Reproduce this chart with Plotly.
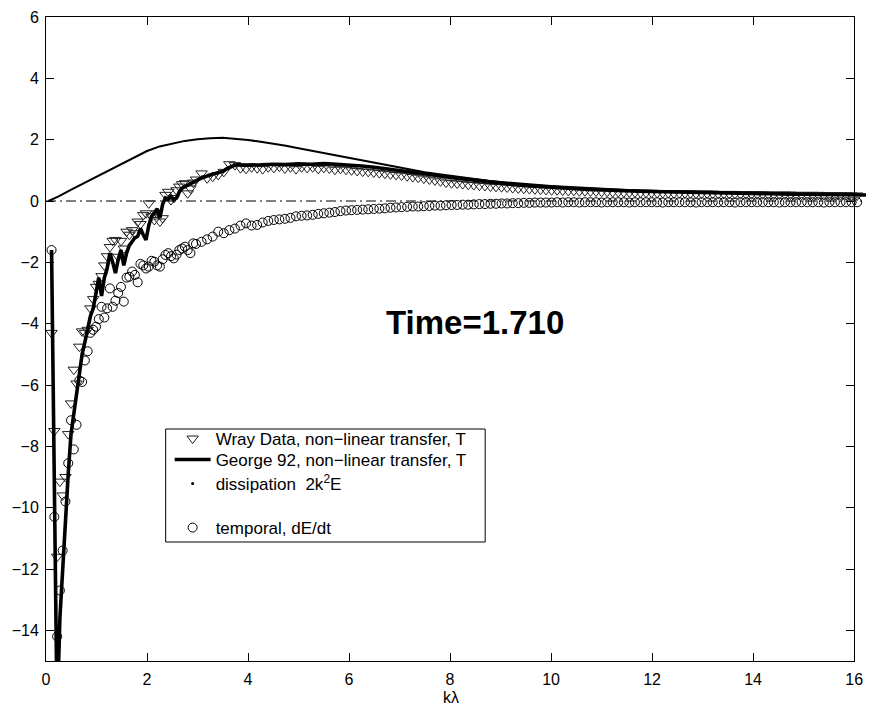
import numpy as np
import plotly.graph_objects as go

# ---- wavenumber grids (k * lambda) -------------------------------------
K_LO_START, K_LO_STEP = 0.11, 0.055   # fine grid at low wavenumbers
K_HI_START, K_HI_STEP = 3.08, 0.11    # coarser grid further out

# Wray data, non-linear transfer T (triangles)
tri_lo = [-4.3, -7.5, -11.6, -9.15, -9.6, -9.0, -7.6, -6.6, -5.5, -5.95,
          -4.75, -4.25, -4.3, -4.2, -3.5, -3.2, -2.8, -2.7, -2.45, -2.1,
          -1.8, -1.5, -1.3, -1.27, -1.82, -1.3, -1.55, -1.0, -1.1, -0.95,
          -1.05, -0.67, -0.75, -0.46, -0.4, -0.08, -0.5, -0.62, -0.4, -0.67,
          -0.56, 0.2, 0.3, 0.03, 0.1, 0.35, 0.47, 0.55, 0.58, 0.25,
          0.41, 0.6, 0.7]
tri_hi = [0.9, 0.74, 0.79, 0.85, 0.95, 1.2, 1.17, 1.07, 1.05, 1.1,
          1.07, 1.04, 1.1, 1.08, 1.12, 1.06, 1.1, 1.04, 1.1, 1.08,
          1.1, 1.05, 1.08, 1.06, 1.02, 1.05, 1.02, 1.0, 0.98, 0.96,
          0.95, 0.93, 0.91, 0.89, 0.87, 0.85, 0.83, 0.81, 0.78, 0.76,
          0.73, 0.7, 0.67, 0.64, 0.6, 0.58, 0.57, 0.55, 0.53, 0.52,
          0.5, 0.49, 0.47, 0.46, 0.45, 0.44, 0.42, 0.41, 0.4, 0.39,
          0.38, 0.37, 0.36, 0.35, 0.35, 0.34, 0.33, 0.33, 0.32, 0.32,
          0.31, 0.31, 0.3, 0.3, 0.29, 0.29, 0.28, 0.28, 0.28, 0.27,
          0.27, 0.27, 0.26, 0.26, 0.26, 0.25, 0.25, 0.25, 0.25, 0.24,
          0.24, 0.24, 0.24, 0.23, 0.23, 0.23, 0.23, 0.22, 0.22, 0.22,
          0.22, 0.22, 0.21, 0.21, 0.21, 0.21, 0.21, 0.2, 0.2, 0.2,
          0.2, 0.2, 0.19, 0.19, 0.19, 0.19, 0.19, 0.18, 0.18]

# temporal term dE/dt (circles)
circ_lo = [-1.6, -10.3, -14.2, -12.7, -11.4, -9.8, -8.55, -7.15, -8.1, -7.3,
           -5.85, -5.9, -5.2, -4.9, -4.3, -4.2, -4.1, -3.85, -3.45, -3.8,
           -3.5, -2.85, -3.45, -3.25, -3.0, -2.8, -3.28, -2.5, -2.47, -2.3,
           -2.41, -2.65, -2.05, -2.1, -2.2, -2.14, -1.95, -1.98, -2.1, -2.14,
           -1.9, -1.76, -1.7, -1.8, -1.87, -1.75, -1.6, -1.55, -1.49, -1.6,
           -1.7, -1.38, -1.4]
circ_hi = [-1.33, -1.25, -1.16, -1.0, -1.05, -0.95, -0.9, -0.8, -0.73, -0.8,
           -0.78, -0.7, -0.65, -0.62, -0.6, -0.58, -0.55, -0.5, -0.48, -0.47,
           -0.45, -0.42, -0.4, -0.38, -0.36, -0.33, -0.31, -0.3, -0.29, -0.28,
           -0.27, -0.26, -0.25, -0.24, -0.22, -0.21, -0.2, -0.19, -0.18, -0.18,
           -0.17, -0.16, -0.15, -0.15, -0.14, -0.13, -0.13, -0.12, -0.12, -0.11,
           -0.1, -0.1, -0.09, -0.09, -0.08, -0.08, -0.07, -0.07, -0.06, -0.06,
           -0.05, -0.05, -0.05, -0.05, -0.04, -0.05, -0.04, -0.04, -0.05, -0.04,
           -0.04, -0.04, -0.05, -0.04, -0.04, -0.04, -0.04, -0.05, -0.04, -0.04,
           -0.04, -0.04, -0.04, -0.05, -0.04, -0.04, -0.04, -0.04, -0.04, -0.05,
           -0.04, -0.04, -0.04, -0.04, -0.04, -0.04, -0.05, -0.04, -0.04, -0.04,
           -0.04, -0.04, -0.04, -0.04, -0.05, -0.04, -0.04, -0.04, -0.04, -0.04,
           -0.04, -0.04, -0.05, -0.04, -0.04, -0.04, -0.04, -0.04, -0.04]

# George 92 model of the non-linear transfer (thick line)
george_lo = [-1.6, -10.6, -16.8, -13.6, -11.9, -10.3, -8.9, -7.6, -6.9, -6.3,
             -5.7, -5.0, -4.6, -4.1, -3.75, -3.5, -3.0, -2.5, -3.1, -2.5,
             -2.2, -1.7, -2.0, -2.35, -1.9, -1.6, -2.1, -1.7, -1.45, -1.3,
             -1.2, -1.15, -0.9, -1.1, -1.27, -0.8, -0.5, -0.4, -0.25, -0.55,
             -0.1, 0.1, 0.05, 0.15, 0.05, 0.1, 0.3, 0.42, 0.47, 0.5,
             0.55, 0.62, 0.68, 0.7, 0.75, 0.78, 0.82, 0.85, 0.88, 0.9,
             0.92, 0.95, 0.98, 1.05, 1.1, 1.14, 1.17, 1.18, 1.17, 1.16,
             1.17]
GEORGE_HI_START, GEORGE_HI_STEP = 4.25, 0.25
george_hi = [1.18, 1.2, 1.19, 1.21, 1.2, 1.22, 1.2, 1.18, 1.14, 1.1,
             1.05, 1.0, 0.95, 0.89, 0.83, 0.77, 0.72, 0.67, 0.62, 0.58,
             0.54, 0.5, 0.47, 0.44, 0.42, 0.4, 0.38, 0.36, 0.345, 0.33,
             0.32, 0.31, 0.3, 0.29, 0.28, 0.27, 0.265, 0.26, 0.25, 0.24,
             0.235, 0.23, 0.225, 0.22, 0.215, 0.21, 0.205, 0.2, 0.195, 0.19]

# dissipation 2k^2 E
diss_k = [0.05, 0.25, 0.5, 0.75, 1.0, 1.25, 1.5, 1.75, 2.0, 2.25,
          2.5, 2.75, 3.0, 3.25, 3.5, 3.75, 4.0, 4.25, 4.5, 4.75,
          5.0, 5.25, 5.5, 5.75, 6.0, 6.25, 6.5, 6.75, 7.0, 7.25,
          7.5, 7.75, 8.0, 8.25, 8.5, 8.75, 9.0, 9.25, 9.5, 9.75,
          10.0, 10.5, 11.0, 11.5, 12.0, 12.5, 13.0, 13.5, 14.0, 14.5,
          15.0, 15.5, 16.0, 16.5]
diss_v = [0.0, 0.15, 0.37, 0.58, 0.8, 1.0, 1.21, 1.43, 1.63, 1.78,
          1.88, 1.96, 2.01, 2.05, 2.06, 2.03, 1.99, 1.93, 1.87, 1.8,
          1.72, 1.64, 1.56, 1.48, 1.4, 1.32, 1.24, 1.16, 1.09, 1.01,
          0.94, 0.88, 0.82, 0.76, 0.71, 0.66, 0.62, 0.58, 0.55, 0.52,
          0.49, 0.44, 0.4, 0.36, 0.33, 0.31, 0.29, 0.27, 0.25, 0.24,
          0.22, 0.21, 0.2, 0.19]

zero_x = [0.0, 16.5]
zero_y = [0.0, 0.0]

x_ticks = [0, 2, 4, 6, 8, 10, 12, 14, 16]
y_ticks = [-14, -12, -10, -8, -6, -4, -2, 0, 2, 4, 6]

# ---- assemble per-series coordinates ------------------------------------
def grid(start, step, n):
    return np.round(start + step * np.arange(n), 4)

k_tri = np.concatenate([grid(K_LO_START, K_LO_STEP, len(tri_lo)),
                        grid(K_HI_START, K_HI_STEP, len(tri_hi))])
y_tri = np.array(tri_lo + tri_hi)
k_circ = np.concatenate([grid(K_LO_START, K_LO_STEP, len(circ_lo)),
                         grid(K_HI_START, K_HI_STEP, len(circ_hi))])
y_circ = np.array(circ_lo + circ_hi)
k_george = np.concatenate([grid(K_LO_START, K_LO_STEP, len(george_lo)),
                           grid(GEORGE_HI_START, GEORGE_HI_STEP, len(george_hi))])
y_george = np.array(george_lo + george_hi)

# ---- geometry ----------------------------------------------------------
W, H = 875, 707
ML, MR, MT, MB = 46, 0, 17, 46
X_AXIS_END_PX = 863                      # pixel where k = 16 sits
plot_w = W - ML - MR
plot_h = H - MT - MB
frame_frac = (X_AXIS_END_PX - ML) / plot_w
x_max = 16.0 / frame_frac                # data axis runs on to the window edge
Y_RANGE = [-15, 6]


def px_x(px):
    return (px - ML) / plot_w


def px_y(py):
    return (H - MB - py) / plot_h


FONT = "Liberation Sans, Arial, Helvetica, sans-serif"
LEG_FONT = dict(family=FONT, size=17, color="black")

fig = go.Figure()

fig.add_trace(go.Scatter(x=zero_x, y=zero_y, mode="lines",
                         line=dict(color="black", width=1, dash="10px,4px,2px,4px"),
                         showlegend=False, hoverinfo="skip"))

fig.add_trace(go.Scatter(x=diss_k, y=diss_v, mode="lines",
                         line=dict(color="black", width=2),
                         showlegend=False))

fig.add_trace(go.Scatter(x=k_circ, y=y_circ, mode="markers",
                         marker=dict(symbol="circle-open", size=9, color="black",
                                     line=dict(width=1, color="black")),
                         name="temporal, dE/dt", legend="legend4"))

fig.add_trace(go.Scatter(x=k_tri, y=y_tri, mode="markers",
                         marker=dict(symbol="triangle-down-open", size=10, color="#222",
                                     line=dict(width=1, color="#222")),
                         name="Wray Data, non\u2212linear transfer, T",
                         legend="legend"))

fig.add_trace(go.Scatter(x=k_george, y=y_george, mode="lines",
                         line=dict(color="black", width=3.6),
                         name="George 92, non\u2212linear transfer, T",
                         legend="legend2"))

# legend entry for the dissipation curve
fig.add_trace(go.Scatter(x=[None], y=[None], mode="markers",
                         marker=dict(symbol="circle", size=3, color="black"),
                         name="dissipation  2k<sup>2</sup>E",
                         legend="legend3"))

# empty subplot that carries the boxed frame and ticks (0..16)
fig.add_trace(go.Scatter(x=[None], y=[None], xaxis="x2", yaxis="y2",
                         showlegend=False, hoverinfo="skip"))

axis_common = dict(showline=True, linecolor="black", linewidth=1, mirror="ticks",
                   ticks="inside", ticklen=8, tickwidth=1, tickcolor="black",
                   showgrid=False, zeroline=False,
                   tickfont=dict(family=FONT, size=16, color="black"))

# legend rows: one legend per row so the row spacing can follow the box
LEG_BOX = dict(x0=167, x1=490, y0=429, y1=542)
LEG_TEXT_X = 171
leg_rows = {"legend": 439, "legend2": 460, "legend3": 484, "legend4": 528}
legends = {}
for name, row_y in leg_rows.items():
    legends[name] = dict(x=px_x(LEG_TEXT_X), y=px_y(row_y),
                         xanchor="left", yanchor="middle",
                         bgcolor="rgba(0,0,0,0)", borderwidth=0,
                         itemwidth=36, font=LEG_FONT)

fig.update_layout(
    width=W, height=H,
    margin=dict(l=ML, r=MR, t=MT, b=MB),
    paper_bgcolor="white", plot_bgcolor="rgba(0,0,0,0)",
    xaxis=dict(domain=[0, 1], range=[0, x_max], visible=False, anchor="y"),
    yaxis=dict(domain=[0, 1], range=Y_RANGE, visible=False, anchor="x"),
    xaxis2=dict(domain=[0, frame_frac], range=[0, 16], anchor="y2",
                tickvals=x_ticks, ticklabelstandoff=4, **axis_common),
    yaxis2=dict(domain=[0, 1], range=Y_RANGE, anchor="x2",
                tickvals=y_ticks, ticklabelstandoff=3, **axis_common),
    showlegend=True,
    shapes=[dict(type="rect", xref="paper", yref="paper",
                 x0=px_x(LEG_BOX["x0"]), x1=px_x(LEG_BOX["x1"]),
                 y0=px_y(LEG_BOX["y1"]), y1=px_y(LEG_BOX["y0"]),
                 line=dict(color="black", width=1), fillcolor="white",
                 layer="above")],
    annotations=[
        dict(text="<b>Time=1.710</b>", xref="paper", yref="paper",
             x=px_x(480), y=px_y(322),
             xanchor="center", yanchor="middle", showarrow=False,
             font=dict(family=FONT, size=33, color="black")),
        dict(text="k\u03bb", xref="paper", yref="paper",
             x=px_x(455), y=px_y(697),
             xanchor="center", yanchor="middle", showarrow=False,
             font=dict(family=FONT, size=16, color="black")),
    ],
    **legends,
)

fig.write_html("out.html")
